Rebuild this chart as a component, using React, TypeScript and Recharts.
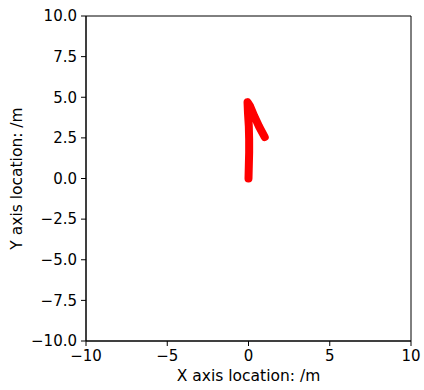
import { Label, Line, LineChart, ReferenceArea, XAxis, YAxis } from "recharts";

// robot track (metres)
const trackX = [0, 0.02, 0.04, 0.04, 0.02, -0.03, -0.06, 0.1, 0.35, 0.65, 1.0];
const trackY = [0, 0.8, 1.6, 2.4, 3.2, 4.0, 4.7, 4.45, 3.85, 3.2, 2.55];

const xTicks = [-10, -5, 0, 5, 10];
const yTicks = [-10, -7.5, -5, -2.5, 0, 2.5, 5, 7.5, 10];

const data = trackX.map((x, i) => ({ x, y: trackY[i] }));

const font = "DejaVu Sans";
const minus = (s: string) => s.replace("-", "\u2212");

export default function App() {
  return (
    <div style={{ position: "absolute", left: 0, top: 0, background: "#fff" }}>
      <LineChart width={424} height={390} data={data} margin={{ top: 16, right: 13, bottom: 0, left: 0 }}>
        <XAxis
          type="number"
          dataKey="x"
          domain={[-10, 10]}
          ticks={xTicks}
          height={49}
          stroke="#000"
          tickSize={5}
          tickMargin={4}
          tick={{ fill: "#000", fontSize: 15, fontFamily: font }}
          tickFormatter={(v: number) => minus(String(v))}
        >
          <Label
            content={({ viewBox }: any) => (
              <text x={viewBox.x + viewBox.width / 2} y={381} textAnchor="middle" fontSize={15.5} fontFamily={font} fill="#000">
                X axis location: /m
              </text>
            )}
          />
        </XAxis>
        <YAxis
          type="number"
          dataKey="y"
          domain={[-10, 10]}
          ticks={yTicks}
          width={86}
          stroke="#000"
          tickSize={5}
          tickMargin={4}
          tick={{ fill: "#000", fontSize: 15, fontFamily: font }}
          tickFormatter={(v: number) => minus(v.toFixed(1))}
        >
          <Label
            content={({ viewBox }: any) => {
              const cy = viewBox.y + viewBox.height / 2;
              return (
                <text x={22} y={cy} transform={`rotate(-90 22 ${cy})`} textAnchor="middle" fontSize={15.5} fontFamily={font} fill="#000">
                  Y axis location: /m
                </text>
              );
            }}
          />
        </YAxis>
        <ReferenceArea x1={-10} x2={10} y1={-10} y2={10} fill="none" stroke="#000" strokeOpacity={1} />
        <Line
          type="linear"
          dataKey="y"
          stroke="#ff0000"
          strokeWidth={8}
          strokeLinecap="round"
          strokeLinejoin="round"
          dot={false}
          isAnimationActive={false}
        />
      </LineChart>
    </div>
  );
}
